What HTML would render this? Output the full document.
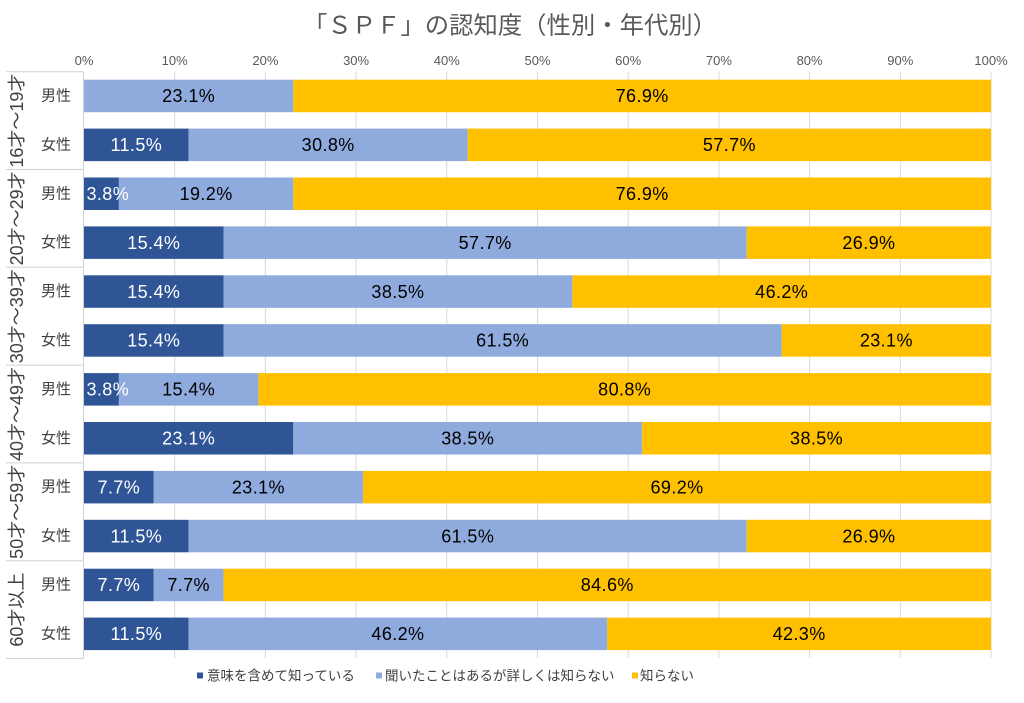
<!DOCTYPE html>
<html><head><meta charset="utf-8">
<style>
html,body{margin:0;padding:0;background:#fff;}
svg{display:block;}
text{font-family:"Liberation Sans","Noto Sans CJK JP",sans-serif;}
.cj{font-family:"Liberation Sans","Noto Sans CJK JP",sans-serif;}
.lb{font-size:18px;text-anchor:middle;letter-spacing:0.4px;}
.w{fill:#fff;}
.k{fill:#000;}
.ax{font-size:13px;fill:#595959;text-anchor:middle;}
.rl{font-size:15px;fill:#404040;text-anchor:middle;dominant-baseline:central;}
.gl{font-size:18px;fill:#404040;text-anchor:middle;dominant-baseline:central;}
.lg{font-size:13.5px;fill:#404040;dominant-baseline:central;}
</style></head>
<body>
<svg width="1024" height="703" viewBox="0 0 1024 703" xmlns="http://www.w3.org/2000/svg">
<rect width="1024" height="703" fill="#fff"/>
<!-- title -->
<text x="510" y="26" font-size="24" fill="#595959" text-anchor="middle" dominant-baseline="central" textLength="414" lengthAdjust="spacingAndGlyphs">「ＳＰＦ」の認知度（性別・年代別）</text>

<!-- axis labels -->
<g class="ax">
<text x="84" y="65">0%</text>
<text x="174.7" y="65">10%</text>
<text x="265.4" y="65">20%</text>
<text x="356.1" y="65">30%</text>
<text x="446.8" y="65">40%</text>
<text x="537.5" y="65">50%</text>
<text x="628.2" y="65">60%</text>
<text x="718.9" y="65">70%</text>
<text x="809.6" y="65">80%</text>
<text x="900.3" y="65">90%</text>
<text x="991" y="65">100%</text>
</g>

<!-- gridlines -->
<g stroke="#d9d9d9" stroke-width="1">
<line x1="174.7" y1="71.7" x2="174.7" y2="658"/>
<line x1="265.4" y1="71.7" x2="265.4" y2="658"/>
<line x1="356.1" y1="71.7" x2="356.1" y2="658"/>
<line x1="446.8" y1="71.7" x2="446.8" y2="658"/>
<line x1="537.5" y1="71.7" x2="537.5" y2="658"/>
<line x1="628.2" y1="71.7" x2="628.2" y2="658"/>
<line x1="718.9" y1="71.7" x2="718.9" y2="658"/>
<line x1="809.6" y1="71.7" x2="809.6" y2="658"/>
<line x1="900.3" y1="71.7" x2="900.3" y2="658"/>
<line x1="991" y1="71.7" x2="991" y2="658"/>
</g>

<!-- table lines -->
<g stroke="#d0d0d0" stroke-width="1">
<line x1="83.5" y1="71.7" x2="83.5" y2="658.5"/>
<line x1="6" y1="71.7" x2="83.5" y2="71.7"/>
<line x1="6" y1="169.5" x2="83.5" y2="169.5"/>
<line x1="6" y1="267.3" x2="83.5" y2="267.3"/>
<line x1="6" y1="365.1" x2="83.5" y2="365.1"/>
<line x1="6" y1="462.9" x2="83.5" y2="462.9"/>
<line x1="6" y1="560.7" x2="83.5" y2="560.7"/>
<line x1="6" y1="658.5" x2="83.5" y2="658.5"/>
</g>

<!-- bars -->
<g>
<!-- row0 -->
<rect x="84" y="79.7" width="209.31" height="32.5" fill="#8FAADC"/>
<rect x="293.31" y="79.7" width="697.69" height="32.5" fill="#FFC000"/>
<!-- row1 -->
<rect x="84" y="128.6" width="104.65" height="32.5" fill="#2F5597"/>
<rect x="188.65" y="128.6" width="279.08" height="32.5" fill="#8FAADC"/>
<rect x="467.73" y="128.6" width="523.27" height="32.5" fill="#FFC000"/>
<!-- row2 -->
<rect x="84" y="177.5" width="34.88" height="32.5" fill="#2F5597"/>
<rect x="118.88" y="177.5" width="174.43" height="32.5" fill="#8FAADC"/>
<rect x="293.31" y="177.5" width="697.69" height="32.5" fill="#FFC000"/>
<!-- row3 -->
<rect x="84" y="226.4" width="139.54" height="32.5" fill="#2F5597"/>
<rect x="223.54" y="226.4" width="523.27" height="32.5" fill="#8FAADC"/>
<rect x="746.81" y="226.4" width="244.19" height="32.5" fill="#FFC000"/>
<!-- row4 -->
<rect x="84" y="275.3" width="139.54" height="32.5" fill="#2F5597"/>
<rect x="223.54" y="275.3" width="348.84" height="32.5" fill="#8FAADC"/>
<rect x="572.38" y="275.3" width="418.62" height="32.5" fill="#FFC000"/>
<!-- row5 -->
<rect x="84" y="324.2" width="139.54" height="32.5" fill="#2F5597"/>
<rect x="223.54" y="324.2" width="558.15" height="32.5" fill="#8FAADC"/>
<rect x="781.69" y="324.2" width="209.31" height="32.5" fill="#FFC000"/>
<!-- row6 -->
<rect x="84" y="373.1" width="34.88" height="32.5" fill="#2F5597"/>
<rect x="118.88" y="373.1" width="139.54" height="32.5" fill="#8FAADC"/>
<rect x="258.42" y="373.1" width="732.58" height="32.5" fill="#FFC000"/>
<!-- row7 -->
<rect x="84" y="422" width="209.31" height="32.5" fill="#2F5597"/>
<rect x="293.31" y="422" width="348.84" height="32.5" fill="#8FAADC"/>
<rect x="642.15" y="422" width="348.85" height="32.5" fill="#FFC000"/>
<!-- row8 -->
<rect x="84" y="470.9" width="69.77" height="32.5" fill="#2F5597"/>
<rect x="153.77" y="470.9" width="209.31" height="32.5" fill="#8FAADC"/>
<rect x="363.08" y="470.9" width="627.92" height="32.5" fill="#FFC000"/>
<!-- row9 -->
<rect x="84" y="519.8" width="104.65" height="32.5" fill="#2F5597"/>
<rect x="188.65" y="519.8" width="558.16" height="32.5" fill="#8FAADC"/>
<rect x="746.81" y="519.8" width="244.19" height="32.5" fill="#FFC000"/>
<!-- row10 -->
<rect x="84" y="568.7" width="69.77" height="32.5" fill="#2F5597"/>
<rect x="153.77" y="568.7" width="69.77" height="32.5" fill="#8FAADC"/>
<rect x="223.54" y="568.7" width="767.46" height="32.5" fill="#FFC000"/>
<!-- row11 -->
<rect x="84" y="617.6" width="104.65" height="32.5" fill="#2F5597"/>
<rect x="188.65" y="617.6" width="418.62" height="32.5" fill="#8FAADC"/>
<rect x="607.27" y="617.6" width="383.73" height="32.5" fill="#FFC000"/>
</g>

<!-- data labels -->
<g class="lb">
<text class="k" x="188.65" y="102.2">23.1%</text>
<text class="k" x="642.15" y="102.2">76.9%</text>

<text class="w" x="136.3" y="151.1">11.5%</text>
<text class="k" x="328.19" y="151.1">30.8%</text>
<text class="k" x="729.4" y="151.1">57.7%</text>

<text class="w" x="86.5" y="200" style="text-anchor:start">3.8%</text>
<text class="k" x="206.1" y="200">19.2%</text>
<text class="k" x="642.15" y="200">76.9%</text>

<text class="w" x="153.77" y="248.9">15.4%</text>
<text class="k" x="485.17" y="248.9">57.7%</text>
<text class="k" x="868.9" y="248.9">26.9%</text>

<text class="w" x="153.77" y="297.8">15.4%</text>
<text class="k" x="397.96" y="297.8">38.5%</text>
<text class="k" x="781.69" y="297.8">46.2%</text>

<text class="w" x="153.77" y="346.7">15.4%</text>
<text class="k" x="502.62" y="346.7">61.5%</text>
<text class="k" x="886.35" y="346.7">23.1%</text>

<text class="w" x="86.5" y="395.6" style="text-anchor:start">3.8%</text>
<text class="k" x="188.65" y="395.6">15.4%</text>
<text class="k" x="624.71" y="395.6">80.8%</text>

<text class="w" x="188.65" y="444.5">23.1%</text>
<text class="k" x="467.73" y="444.5">38.5%</text>
<text class="k" x="816.58" y="444.5">38.5%</text>

<text class="w" x="118.88" y="493.4">7.7%</text>
<text class="k" x="258.42" y="493.4">23.1%</text>
<text class="k" x="677.04" y="493.4">69.2%</text>

<text class="w" x="136.3" y="542.3">11.5%</text>
<text class="k" x="467.73" y="542.3">61.5%</text>
<text class="k" x="868.9" y="542.3">26.9%</text>

<text class="w" x="118.88" y="591.2">7.7%</text>
<text class="k" x="188.65" y="591.2">7.7%</text>
<text class="k" x="607.27" y="591.2">84.6%</text>

<text class="w" x="136.3" y="640.1">11.5%</text>
<text class="k" x="397.96" y="640.1">46.2%</text>
<text class="k" x="799.1" y="640.1">42.3%</text>
</g>

<!-- row labels -->
<g class="rl">
<text x="56" y="96">男性</text>
<text x="56" y="144.9">女性</text>
<text x="56" y="193.8">男性</text>
<text x="56" y="242.7">女性</text>
<text x="56" y="291.6">男性</text>
<text x="56" y="340.5">女性</text>
<text x="56" y="389.4">男性</text>
<text x="56" y="438.3">女性</text>
<text x="56" y="487.2">男性</text>
<text x="56" y="536.1">女性</text>
<text x="56" y="585">男性</text>
<text x="56" y="633.9">女性</text>
</g>

<!-- group labels -->
<g class="gl">
<text transform="translate(17,120.6) rotate(-90)" x="0" y="0">16才～19才</text>
<text transform="translate(17,218.4) rotate(-90)" x="0" y="0">20才～29才</text>
<text transform="translate(17,316.2) rotate(-90)" x="0" y="0">30才～39才</text>
<text transform="translate(17,414.0) rotate(-90)" x="0" y="0">40才～49才</text>
<text transform="translate(17,511.8) rotate(-90)" x="0" y="0">50才～59才</text>
<text transform="translate(17,609.6) rotate(-90)" x="0" y="0">60才以上</text>
</g>

<!-- legend -->
<rect x="197" y="672.5" width="6" height="6" fill="#2F5597"/>
<text class="lg" x="207" y="676">意味を含めて知っている</text>
<rect x="376" y="672.5" width="6" height="6" fill="#8FAADC"/>
<text class="lg" x="385" y="676">聞いたことはあるが詳しくは知らない</text>
<rect x="632" y="672.5" width="6" height="6" fill="#FFC000"/>
<text class="lg" x="640" y="676">知らない</text>
</svg>
</body></html>
